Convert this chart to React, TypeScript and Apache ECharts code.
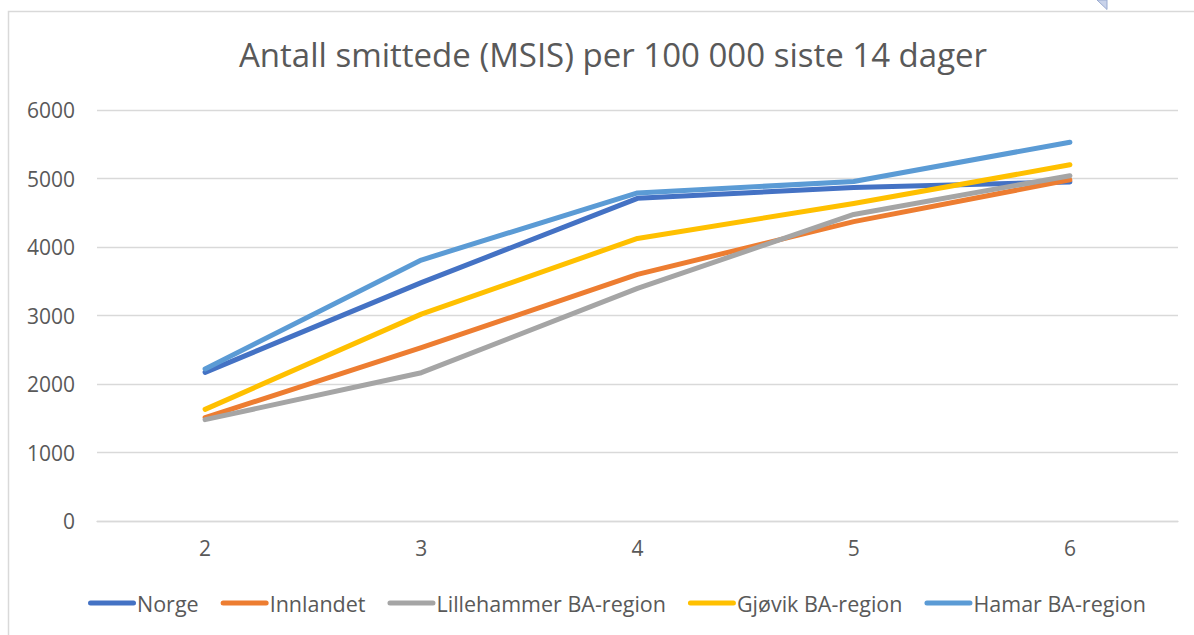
import React, { useEffect, useRef } from "react";
import * as echarts from "echarts";

const categories = ["2", "3", "4", "5", "6"];
const seriesNames = ["Norge", "Innlandet", "Lillehammer BA-region", "Gjøvik BA-region", "Hamar BA-region"];
const norge = [2170, 3480, 4710, 4870, 4950];
const innlandet = [1510, 2530, 3600, 4370, 4980];
const lillehammer = [1480, 2165, 3395, 4475, 5040];
const gjovik = [1630, 3020, 4125, 4635, 5200];
const hamar = [2220, 3810, 4790, 4955, 5530];
const colors = ["#4472C4", "#ED7D31", "#A5A5A5", "#FFC000", "#5B9BD5"];
const titleText = "Antall smittede (MSIS) per 100 000 siste 14 dager";

export default function App() {
  const ref = useRef<HTMLDivElement>(null);
  useEffect(() => {
    if (!ref.current) return;
    const chart = echarts.init(ref.current, null, { renderer: "svg" });
    const values = [norge, innlandet, lillehammer, gjovik, hamar];
    const font = "'Open Sans', sans-serif";
    chart.setOption({
      animation: false,
      backgroundColor: "#ffffff",
      color: colors,
      title: {
        text: titleText,
        left: 234,
        top: 33,
        textStyle: { fontFamily: font, fontSize: 33, fontWeight: "normal", color: "#595959" },
      },
      grid: { left: 97, right: 16, top: 110, bottom: 114, containLabel: false },
      xAxis: {
        type: "category",
        data: categories,
        boundaryGap: true,
        axisLine: { show: true, lineStyle: { color: "#d9d9d9", width: 1.3 } },
        axisTick: { show: false },
        axisLabel: { color: "#595959", fontSize: 21, fontFamily: font, margin: 16 },
      },
      yAxis: {
        type: "value",
        min: 0,
        max: 6000,
        interval: 1000,
        axisLine: { show: false },
        axisTick: { show: false },
        splitLine: { lineStyle: { color: "#d9d9d9", width: 1.3 } },
        axisLabel: {
          color: "#595959",
          fontSize: 21,
          fontFamily: font,
          margin: 22,
          formatter: (v: number) => String(v),
        },
      },
      legend: {
        bottom: 16,
        left: 83,
        itemWidth: 48,
        itemHeight: 5,
        itemGap: 22,
        icon: "path://M2.5,0 H45.5 A2.5,2.5 0 0 1 45.5,5 H2.5 A2.5,2.5 0 0 1 2.5,0 Z",
        textStyle: { color: "#595959", fontSize: 21.5, fontFamily: font, padding: [0, 0, 0, -4] },
        data: seriesNames,
      },
      graphic: [
        {
          type: "rect",
          shape: { x: 8.5, y: 11.5, width: 1200, height: 640 },
          style: { fill: "none", stroke: "#d9d9d9", lineWidth: 1.5 },
          silent: true,
          z: -1,
        },
        {
          type: "polygon",
          shape: { points: [[1097, 0], [1107, 0], [1107, 9.5]] },
          style: { fill: "#c9d3ea", stroke: "#9aabd0", lineWidth: 1 },
          silent: true,
        },
      ],
      series: seriesNames.map((name, i) => ({
        name,
        type: "line",
        data: values[i],
        symbol: "none",
        lineStyle: { width: 5, color: colors[i], cap: "round", join: "round" },
        itemStyle: { color: colors[i] },
      })),
    });
    return () => chart.dispose();
  }, []);
  return (
    <div
      ref={ref}
      style={{ position: "fixed", left: 0, top: 0, width: 1194, height: 635 }}
    />
  );
}
